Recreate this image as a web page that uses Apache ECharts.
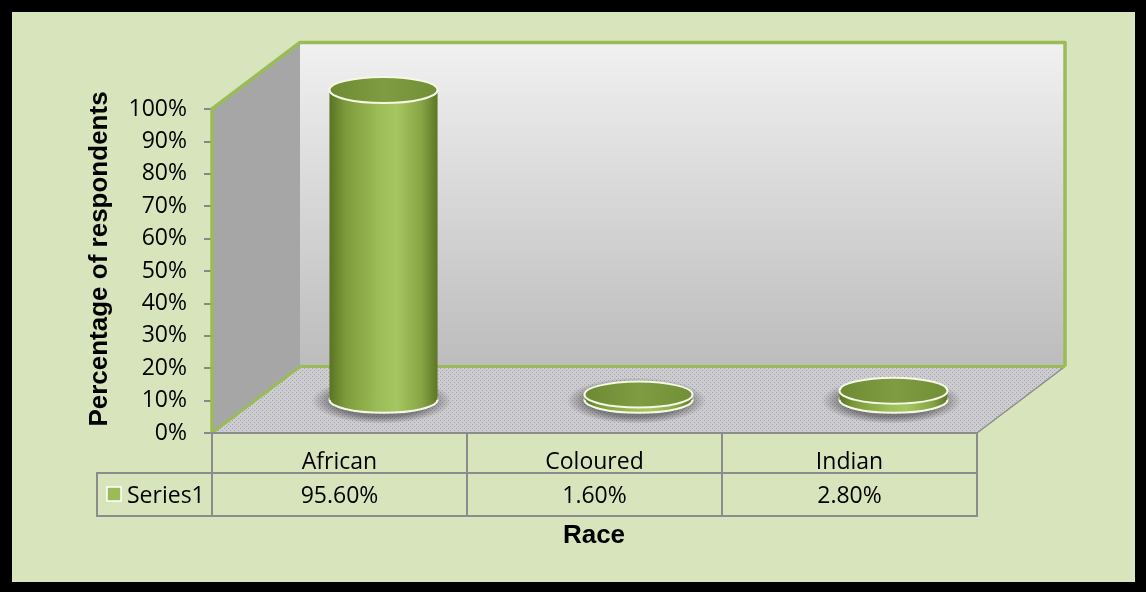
<!DOCTYPE html>
<html>
<head>
<meta charset="utf-8">
<script src="https://cdn.jsdelivr.net/npm/echarts@6/dist/echarts.min.js"></script>
<style>
html,body{margin:0;padding:0;background:#000;}
#chart{width:1146px;height:592px;}
</style>
</head>
<body>
<div id="chart"></div>
<script>
// ---- data ----
const categories = ['African', 'Coloured', 'Indian'];
const seriesName = 'Series1';
const values = [0.956, 0.016, 0.028];
const yAxisTitle = 'Percentage of respondents';
const xAxisTitle = 'Race';

// ---- style constants ----
const DX = 88, DY = -66.5;         // 3D depth offset
const GREEN = '#9bbb59';
const GRID_LINE = '#8c8c8c';
const BODY_FONT = '"Open Sans", Lato, sans-serif';
const TITLE_FONT = '"Liberation Sans", Arial, sans-serif';

const chart = echarts.init(document.getElementById('chart'));

// floor dot pattern
const pc = document.createElement('canvas');
pc.width = 4; pc.height = 4;
const pctx = pc.getContext('2d');
pctx.fillStyle = '#cdcdd1'; pctx.fillRect(0, 0, 4, 4);
pctx.fillStyle = '#a2a2a8'; pctx.fillRect(0, 0, 1, 1); pctx.fillRect(2, 2, 1, 1);

function renderWalls(params, api) {
  const cs = params.coordSys;
  const L = cs.x, R = cs.x + cs.width, T = cs.y, B = cs.y + cs.height;
  return {
    type: 'group',
    children: [
      { type: 'rect', shape: { x: L + DX, y: T + DY, width: cs.width, height: cs.height },
        style: { fill: new echarts.graphic.LinearGradient(0, 0, 0, 1, [
          { offset: 0, color: '#f1f1f1' }, { offset: 1, color: '#bcbcbc' }]) } },
      { type: 'polygon', shape: { points: [[L, T], [L + DX, T + DY], [L + DX, B + DY], [L, B]] },
        style: { fill: '#a6a6a6' } },
      { type: 'polygon', shape: { points: [[L, B], [R, B], [R + DX, B + DY], [L + DX, B + DY]] },
        style: { fill: { image: pc, repeat: 'repeat' } } },
      { type: 'line', shape: { x1: R, y1: B, x2: R + DX, y2: B + DY },
        style: { stroke: GRID_LINE, lineWidth: 1.5 } },
      { type: 'line', shape: { x1: L + DX, y1: B + DY, x2: R + DX, y2: B + DY },
        style: { stroke: GREEN, lineWidth: 3 } },
      { type: 'line', shape: { x1: L, y1: B, x2: L + DX, y2: B + DY },
        style: { stroke: GREEN, lineWidth: 3 } },
      { type: 'polyline', shape: { points: [[L, B], [L, T], [L + DX, T + DY], [R + DX, T + DY], [R + DX, B + DY]] },
        style: { stroke: GREEN, lineWidth: 3.5, fill: null, lineJoin: 'round' } }
    ]
  };
}

function renderCylinder(params, api) {
  const i = api.value(0), v = api.value(1);
  const p0 = api.coord([i, 0]);
  const p1 = api.coord([i, v]);
  const bw = api.size([1, 0])[0];
  const cx = p0[0] + DX / 2;
  const y0 = p0[1] + DY / 2;
  const y1 = p1[1] + DY / 2;
  const rx = bw * 0.212, ry = 13;
  const bodyGrad = new echarts.graphic.LinearGradient(0, 0, 1, 0, [
    { offset: 0, color: '#5a7325' }, { offset: 0.15, color: '#7d9b3b' },
    { offset: 0.45, color: '#9cbc57' }, { offset: 0.62, color: '#a6c661' },
    { offset: 0.85, color: '#87a544' }, { offset: 1, color: '#5c7626' }]);
  const shR = rx + 16;
  return {
    type: 'group',
    children: [
      { type: 'circle', x: cx - 2, y: y0 + 1, scaleY: (ry + 10) / shR,
        shape: { cx: 0, cy: 0, r: shR },
        style: { fill: new echarts.graphic.RadialGradient(0.5, 0.5, 0.5, [
          { offset: 0, color: 'rgba(30,30,30,0.6)' }, { offset: 0.7, color: 'rgba(30,30,30,0.45)' },
          { offset: 1, color: 'rgba(30,30,30,0)' }]) } },
      { type: 'ellipse', shape: { cx: cx, cy: y0, rx: rx, ry: ry },
        style: { fill: bodyGrad, stroke: '#f4f8e4', lineWidth: 2 } },
      { type: 'rect', shape: { x: cx - rx, y: y1, width: 2 * rx, height: y0 - y1 },
        style: { fill: bodyGrad } },
      { type: 'ellipse', shape: { cx: cx, cy: y1, rx: rx, ry: ry },
        style: { fill: new echarts.graphic.LinearGradient(0, 0, 1, 0, [
          { offset: 0, color: '#6d8a33' }, { offset: 0.5, color: '#7f9c42' }, { offset: 1, color: '#728f37' }]),
          stroke: '#f4f8e4', lineWidth: 2 } }
    ]
  };
}

function renderTable(params, api) {
  const i = api.value(0), v = api.value(1);
  const p = api.coord([i, 0]);
  const bw = api.size([1, 0])[0];
  const x0 = p[0] - bw / 2, yTop = p[1];
  const h1 = 40, h2 = 43;
  return {
    type: 'group',
    children: [
      { type: 'rect', shape: { x: x0, y: yTop, width: bw, height: h1 },
        style: { fill: null, stroke: GRID_LINE, lineWidth: 2 } },
      { type: 'rect', shape: { x: x0, y: yTop + h1, width: bw, height: h2 },
        style: { fill: null, stroke: GRID_LINE, lineWidth: 2 } },
      { type: 'text', x: p[0], y: yTop + 29.5,
        style: { text: categories[i], fill: '#000', font: '23px ' + BODY_FONT, align: 'center', verticalAlign: 'middle' } },
      { type: 'text', x: p[0], y: yTop + h1 + 23,
        style: { text: (v * 100).toFixed(2) + '%', fill: '#000', font: '23px ' + BODY_FONT, align: 'center', verticalAlign: 'middle' } }
    ]
  };
}

const tableData = values.map((v, i) => [i, v]);

const option = {
  backgroundColor: '#000',
  animation: false,
  grid: { left: 212, right: 169, top: 109, bottom: 159 },
  xAxis: {
    type: 'category', data: categories,
    axisLine: { show: false }, axisTick: { show: false }, axisLabel: { show: false }, splitLine: { show: false }
  },
  yAxis: {
    type: 'value', min: 0, max: 1, interval: 0.1,
    axisLine: { show: false },
    axisTick: { show: true, length: 8, lineStyle: { color: '#878787', width: 2 } },
    splitLine: { show: false },
    axisLabel: { formatter: v => Math.round(v * 100) + '%', color: '#000', fontSize: 23, fontFamily: BODY_FONT, margin: 25 }
  },
  graphic: [
    { type: 'rect', z: -10, shape: { x: 12, y: 12, width: 1123, height: 570 }, style: { fill: '#d8e4bc' } },
    { type: 'rect', shape: { x: 97, y: 473, width: 115, height: 43 }, style: { fill: null, stroke: GRID_LINE, lineWidth: 2 } },
    { type: 'rect', shape: { x: 107, y: 487, width: 14, height: 14 }, style: { fill: GREEN, stroke: '#ffffff', lineWidth: 1.5 } },
    { type: 'text', x: 127, y: 496, style: { text: seriesName, fill: '#000', font: '23px ' + BODY_FONT, verticalAlign: 'middle' } },
    { type: 'text', x: 100, y: 259, rotation: Math.PI / 2,
      style: { text: yAxisTitle, fill: '#000', font: 'bold 26px ' + TITLE_FONT, align: 'center', verticalAlign: 'middle' } },
    { type: 'text', x: 594, y: 536,
      style: { text: xAxisTitle, fill: '#000', font: 'bold 26px ' + TITLE_FONT, align: 'center', verticalAlign: 'middle' } }
  ],
  series: [
    { type: 'custom', name: 'walls', renderItem: renderWalls, data: [[0, 0]], silent: true, z: 1 },
    { type: 'custom', name: seriesName, renderItem: renderCylinder, data: tableData, z: 3 },
    { type: 'custom', name: 'table', renderItem: renderTable, data: tableData, silent: true, z: 2 }
  ]
};
chart.setOption(option);
</script>
</body>
</html>
